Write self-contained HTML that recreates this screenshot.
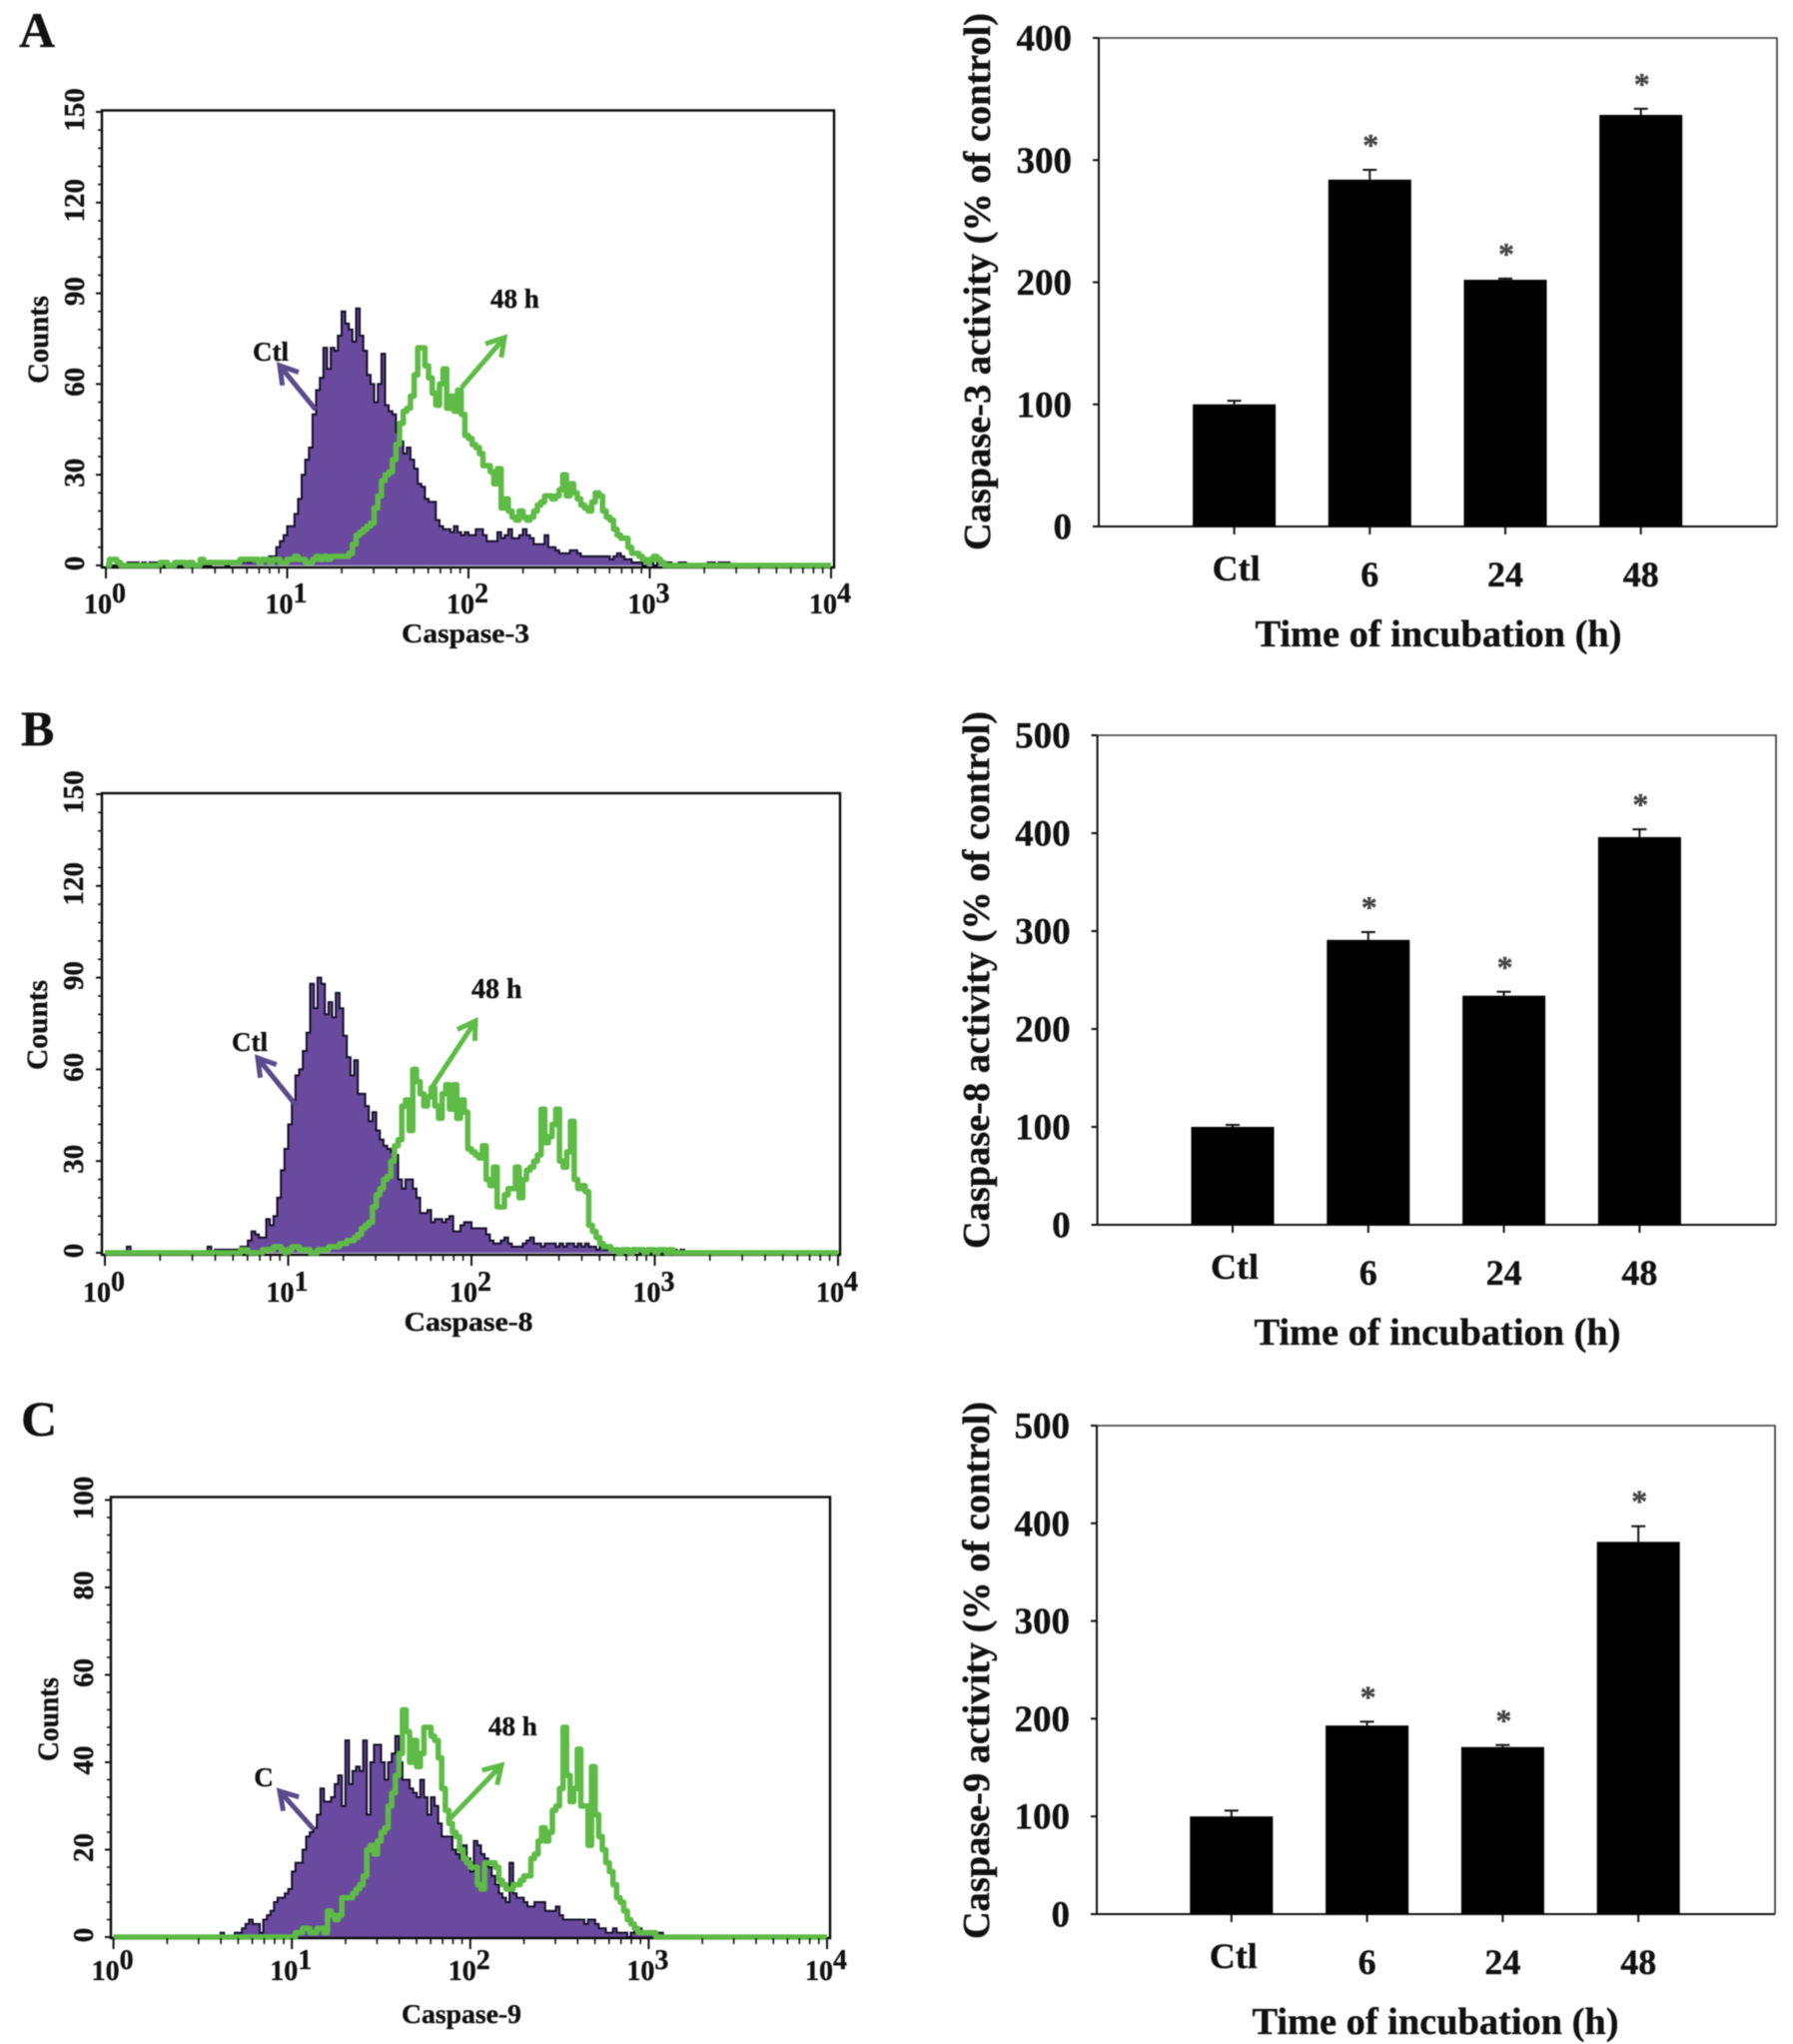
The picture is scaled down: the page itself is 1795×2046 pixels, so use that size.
<!DOCTYPE html>
<html lang="en">
<head>
<meta charset="utf-8">
<title>Caspase activity by flow cytometry and bar charts</title>
<style>
  html, body { margin: 0; padding: 0; background: #fff; }
  svg { display: block; filter: blur(0.55px); }
  text { font-family: "Liberation Serif", serif; font-weight: bold; fill: #111; stroke: #111; stroke-width: 0.35px; }
</style>
</head>
<body>
<svg id="figure" xmlns="http://www.w3.org/2000/svg" width="1795" height="2046" viewBox="0 0 1795 2046">
  <rect x="0" y="0" width="1795" height="2046" fill="#ffffff"/>

  <text x="19" y="47" font-size="50">A</text>
  <text x="21" y="746" font-size="50">B</text>
  <text x="21" y="1437" font-size="50">C</text>

  <g id="flow-a"></g>
  <g id="flow-b"></g>
  <g id="flow-c"></g>
  <g id="bar-a"></g>
  <g id="bar-b"></g>
  <g id="bar-c"></g>

  <!-- Flow panel A annotations -->
  <text x="466" y="643" font-size="27" text-anchor="middle" textLength="128" lengthAdjust="spacingAndGlyphs">Caspase-3</text>
  <text transform="translate(48 340) rotate(-90)" font-size="30" text-anchor="middle" textLength="88" lengthAdjust="spacingAndGlyphs">Counts</text>
  <text x="271" y="361" font-size="27" text-anchor="middle">Ctl</text>
  <text x="491" y="308" font-size="27">48 h</text>

  <!-- Flow panel B annotations -->
  <text x="469" y="1332" font-size="27" text-anchor="middle" textLength="129" lengthAdjust="spacingAndGlyphs">Caspase-8</text>
  <text transform="translate(47 1026) rotate(-90)" font-size="30" text-anchor="middle" textLength="90" lengthAdjust="spacingAndGlyphs">Counts</text>
  <text x="250" y="1052" font-size="27" text-anchor="middle">Ctl</text>
  <text x="472" y="999" font-size="28">48 h</text>

  <!-- Flow panel C annotations -->
  <text x="462" y="2025" font-size="27" text-anchor="middle" textLength="120" lengthAdjust="spacingAndGlyphs">Caspase-9</text>
  <text transform="translate(58 1721) rotate(-90)" font-size="30" text-anchor="middle" textLength="84" lengthAdjust="spacingAndGlyphs">Counts</text>
  <text x="264" y="1788" font-size="27" text-anchor="middle">C</text>
  <text x="489" y="1737" font-size="27">48 h</text>

  <!-- Bar chart titles -->
  <text transform="translate(991 282) rotate(-90)" font-size="38" text-anchor="middle" textLength="538" lengthAdjust="spacingAndGlyphs">Caspase-3 activity (% of control)</text>
  <text x="1440" y="647" font-size="38" text-anchor="middle" textLength="367" lengthAdjust="spacingAndGlyphs">Time of incubation (h)</text>
  <text transform="translate(990 981) rotate(-90)" font-size="38" text-anchor="middle" textLength="538" lengthAdjust="spacingAndGlyphs">Caspase-8 activity (% of control)</text>
  <text x="1439" y="1346" font-size="38" text-anchor="middle" textLength="367" lengthAdjust="spacingAndGlyphs">Time of incubation (h)</text>
  <text transform="translate(990 1672) rotate(-90)" font-size="38" text-anchor="middle" textLength="538" lengthAdjust="spacingAndGlyphs">Caspase-9 activity (% of control)</text>
  <text x="1437" y="2036" font-size="38" text-anchor="middle" textLength="367" lengthAdjust="spacingAndGlyphs">Time of incubation (h)</text>
</svg>

<script>
/* ---------- Bar chart data ---------- */
const barCategories = ['Ctl', '6', '24', '48'];
const caspase3Values = [100, 284, 202, 337];
const caspase3ErrorTops = [103, 292, 203, 342];
const caspase3Ticks = [0, 100, 200, 300, 400];
const caspase8Values = [100, 291, 234, 396];
const caspase8ErrorTops = [102, 299, 238, 404];
const caspase8Ticks = [0, 100, 200, 300, 400, 500];
const caspase9Values = [100, 193, 171, 381];
const caspase9ErrorTops = [106, 197, 173, 397];
const caspase9Ticks = [0, 100, 200, 300, 400, 500];
const significantFlags = [false, true, true, true];

/* ---------- Flow histogram data: counts per bin, bins are 0.02 decades wide starting at 10^0 ---------- */
const binDecades = 0.02;
const decadeTicks = [0, 1, 2, 3, 4];
const countTicksAB = [0, 30, 60, 90, 120, 150];
const countTicksC = [0, 20, 40, 60, 80, 100];

const ctlCountsA = [
  0,0,0,0,0,0,1,1,1,0, 1,0,1,1,0,0,0,0,0,0, 0,1,0,0,0,0,1,0,0,1, 1,1,1,0,1,1,1,1,2,1,
  2,2,1,2,2,3,3,6,8,10, 13,13,17,22,30,35,39,50,58,62, 72,65,72,71,76,84,80,78,74,85,
  76,71,63,60,54,60,70,53,51,50, 44,41,37,39,35,32,27,26,22,21, 21,15,13,12,12,11,13,11,10,11,
  10,10,12,12,10,8,8,8,11,9, 10,12,9,9,10,12,10,9,7,7, 7,10,6,6,5,4,4,4,5,5,
  4,3,3,3,3,3,3,3,3,2, 3,4,3,2,2,1,1,1,0,1, 1,0,1,1,0,1,0,0,1,1, 0,0,0,0,0,0,1,1,0,1, 1,1,0,0,0
];
const treatedCountsA = [
  0,2,2,1,0,0,0,0,0,0, 0,0,0,0,0,1,1,0,0,1, 1,1,0,1,0,0,2,1,1,1, 1,1,1,1,1,1,1,2,2,2,
  2,2,1,2,2,1,2,2,1,1, 2,2,3,2,2,1,1,2,3,2, 3,2,3,3,3,3,3,4,7,10,
  11,12,13,14,19,23,28,30,31,35, 40,47,51,52,56,63,72,72,66,62, 57,53,60,65,52,56,51,58,50,43,
  42,40,39,37,33,33,31,27,32,19, 22,18,16,15,18,16,15,16,18,20, 21,23,23,22,23,25,30,23,27,24,
  22,20,19,18,21,24,23,18,16,15, 12,10,9,9,6,4,4,3,2,1, 2,3,2,1
];

const ctlCountsB = [
  0,0,0,0,0,0,2,0,0,0, 0,0,0,0,0,0,0,0,0,0, 0,0,0,0,0,0,0,0,2,0, 1,1,1,1,1,1,1,2,2,4,
  7,6,5,5,11,9,12,18,27,34, 42,50,58,60,66,72,88,80,90,88, 78,82,77,85,80,71,64,58,63,52,
  52,48,43,46,40,37,35,34,33,32, 24,21,24,24,21,18,13,13,14,10, 11,11,10,11,12,7,7,9,10,10,
  8,8,8,8,6,4,3,3,4,5, 3,2,2,2,3,4,5,3,3,2, 3,3,3,2,3,2,3,3,2,3,
  2,3,2,2,1,2,1,1,1,1, 0,1,1,0,1,1,0,1,1,0, 1,1,0,1,1,1,0,1
];
const treatedCountsB = [
  0,0,0,0,0,0,0,0,0,0, 0,0,0,0,0,0,0,0,0,0, 0,0,0,0,0,0,0,0,0,0, 0,0,0,0,0,0,0,1,1,0,
  0,0,0,1,1,1,2,2,1,0, 1,2,2,1,1,1,0,0,1,1, 1,2,2,2,3,3,4,4,5,6,
  8,9,10,15,19,21,24,25,30,35, 37,48,50,40,60,56,52,48,51,54, 48,44,52,55,47,55,44,50,46,34,
  33,32,31,35,24,22,28,15,15,19, 21,21,28,18,24,27,28,30,32,47, 36,38,42,47,30,28,33,43,24,21,
  22,20,9,7,5,3,2,2,1,1, 0,1,1,0,1,1,1,0,1,1, 0,1,1,0,1
];

const ctlCountsC = [
  0,0,0,0,0,0,0,0,0,0, 0,0,0,0,0,0,0,0,0,0, 0,0,0,0,0,0,0,0,0,0, 1,0,0,0,1,1,2,3,4,3,
  3,1,4,5,6,8,9,9,10,11, 15,17,17,20,23,24,25,28,34,31, 31,32,35,37,30,45,35,38,39,38,
  45,28,40,44,44,40,36,40,42,46, 40,36,36,34,33,32,36,32,28,32, 30,26,23,23,23,20,19,18,21,18,
  15,22,21,19,18,16,14,12,10,9, 8,17,10,9,9,8,7,7,8,8, 8,6,6,6,7,5,4,4,4,4,
  4,4,3,4,4,3,2,2,1,1, 2,1,1,1,0,1,2,2,1,1, 1,1,1,1
];
const treatedCountsC = [
  0,0,0,0,0,0,0,0,0,0, 0,0,0,0,0,0,0,0,0,0, 0,0,0,0,0,0,0,0,0,0, 0,0,0,0,0,0,0,0,0,0,
  0,0,0,0,0,0,0,0,0,0, 0,1,1,2,2,1,1,2,2,1, 6,5,4,5,9,9,9,10,11,12,
  14,20,21,19,22,24,25,30,33,37, 42,52,47,40,45,39,42,48,48,46, 45,41,34,29,26,24,23,20,18,17,
  16,16,12,11,17,17,17,16,13,12, 11,11,12,12,13,14,14,18,19,22, 25,22,24,29,30,34,48,37,31,34,
  43,30,30,21,39,28,23,20,17,15, 12,9,8,6,4,3,2,1,1,1, 1,1
];

/* ---------- Layout (axes are functions built from these frames) ---------- */
const flowLayoutA = { id:'a', fx0:102, fx1:835, fy0:110.5, fy1:568, x0:106, x1:832, y0:566, yTop:112, yMax:150, minorEvery:6, labelBase:614, labelX:84, ctlArrow:[316,410,280,366], trtArrow:[462,388,505,338] };
const flowLayoutB = { id:'b', fx0:102, fx1:841, fy0:794, fy1:1256, x0:105, x1:839, y0:1254, yTop:795, yMax:150, minorEvery:6, labelBase:1303, labelX:83, ctlArrow:[296,1106,258,1059], trtArrow:[432,1089,476,1022] };
const flowLayoutC = { id:'c', fx0:111, fx1:831, fy0:1498.5, fy1:1940, x0:113.6, x1:828, y0:1939, yTop:1501.5, yMax:100, minorEvery:4, labelBase:1982, labelX:93, ctlArrow:[314,1831,280,1793], trtArrow:[448,1823,502,1767] };

const barLayoutA = { id:'a', left:1100, right:1779, top:38, bottom:527, yMax:400, firstCenter:1235.6, spacing:135.7 };
const barLayoutB = { id:'b', left:1098.6, right:1778, top:736, bottom:1226, yMax:500, firstCenter:1234, spacing:135.8 };
const barLayoutC = { id:'c', left:1098, right:1777, top:1427, bottom:1916, yMax:500, firstCenter:1232.8, spacing:135.8 };

const SVG_NS = 'http://www.w3.org/2000/svg';

function node(parent, tag, attrs, content) {
  const el = document.createElementNS(SVG_NS, tag);
  for (const k in attrs) el.setAttribute(k, attrs[k]);
  if (content !== undefined) el.textContent = content;
  parent.appendChild(el);
  return el;
}

function stepPath(counts, xOf, yOf, closeToBase) {
  const totalBins = 4 / binDecades;
  let d = 'M' + xOf(0).toFixed(1) + ' ' + yOf(0).toFixed(1);
  for (let i = 0; i < totalBins; i++) {
    const c = counts[i] || 0;
    const y = yOf(c).toFixed(1);
    d += 'L' + xOf(i * binDecades).toFixed(1) + ' ' + y;
    d += 'L' + xOf((i + 1) * binDecades).toFixed(1) + ' ' + y;
  }
  if (closeToBase) d += 'L' + xOf(4).toFixed(1) + ' ' + yOf(0).toFixed(1) + 'Z';
  return d;
}

function arrow(parent, pts, color, name) {
  const [x1, y1, x2, y2] = pts;
  const a = Math.atan2(y2 - y1, x2 - x1);
  const len = 20;
  const wing = 0.55;
  const g = node(parent, 'g', {});
  
  
  node(g, 'line', { x1: x1, y1: y1, x2: x2, y2: y2, stroke: color, 'stroke-width': 5 });
  const hx1 = x2 - len * Math.cos(a - wing), hy1 = y2 - len * Math.sin(a - wing);
  const hx2 = x2 - len * Math.cos(a + wing), hy2 = y2 - len * Math.sin(a + wing);
  node(g, 'path', { d: 'M' + hx1 + ' ' + hy1 + 'L' + x2 + ' ' + y2 + 'L' + hx2 + ' ' + hy2, fill: 'none', stroke: color, 'stroke-width': 5 });
}

function drawFlow(layout, ctlCounts, treatedCounts, countTicks) {
  const root = document.getElementById('flow-' + layout.id);
  const xOf = function (decade) { return layout.x0 + (layout.x1 - layout.x0) * decade / 4; };
  const yOf = function (count) { return layout.y0 - (layout.y0 - layout.yTop) * count / layout.yMax; };

  const ctlFill = node(root, 'path', { d: stepPath(ctlCounts, xOf, yOf, true), fill: '#6a4a9e', stroke: 'none' });
  
  
  const ctlLine = node(root, 'path', { d: stepPath(ctlCounts, xOf, yOf, false), fill: 'none', stroke: '#15102a', 'stroke-width': 2 });
  
  

  const frame = node(root, 'rect', { x: layout.fx0, y: layout.fy0, width: layout.fx1 - layout.fx0, height: layout.fy1 - layout.fy0, fill: 'none', stroke: '#0a0a0a', 'stroke-width': 2.4 });
  
  

  const treatedLine = node(root, 'path', { d: stepPath(treatedCounts, xOf, yOf, false), fill: 'none', stroke: '#5dbb46', 'stroke-width': 5.5, 'stroke-linejoin': 'round' });
  
  

  arrow(root, layout.ctlArrow, '#5b4a8c', 'control-arrow');
  arrow(root, layout.trtArrow, '#5dbb46', 'treated-arrow');

  /* x axis ticks */
  decadeTicks.forEach(function (dec) {
    const major = node(root, 'line', { x1: xOf(dec), x2: xOf(dec), y1: layout.fy1, y2: layout.fy1 + 11, stroke: '#111', 'stroke-width': 2 });
    
    
    const label = node(root, 'text', { x: xOf(dec) - 1, y: layout.labelBase, 'font-size': 28, 'text-anchor': 'middle' });
    
    
    label.appendChild(document.createTextNode('10'));
    node(label, 'tspan', { dy: -11 }, String(dec));
    if (dec < 4) {
      for (let m = 2; m < 10; m++) {
        const mx = xOf(dec + Math.log10(m));
        const minor = node(root, 'line', { x1: mx, x2: mx, y1: layout.fy1, y2: layout.fy1 + 6, stroke: '#111', 'stroke-width': 1.6 });
        
        
      }
    }
  });

  /* y axis ticks */
  for (let c = 0; c <= layout.yMax; c += layout.minorEvery) {
    const tick = node(root, 'line', { x1: layout.fx0 - 4, x2: layout.fx0, y1: yOf(c), y2: yOf(c), stroke: '#111', 'stroke-width': 1.6 });
    
    
  }
  countTicks.forEach(function (c) {
    const tick = node(root, 'line', { x1: layout.fx0 - 6, x2: layout.fx0, y1: yOf(c), y2: yOf(c), stroke: '#111', 'stroke-width': 2 });
    
    
    const ty = yOf(c) - 2;
    const label = node(root, 'text', { transform: 'translate(' + layout.labelX + ' ' + ty + ') rotate(-90)', 'font-size': 29, 'text-anchor': 'middle' }, String(c));
    
    
  });
}

function drawBars(layout, categories, values, errorTops, ticks, flags) {
  const root = document.getElementById('bar-' + layout.id);
  const yOf = function (v) { return layout.bottom - (layout.bottom - layout.top) * v / layout.yMax; };
  const xOf = function (i) { return layout.firstCenter + layout.spacing * i; };
  const barWidth = 83;

  const frame = node(root, 'path', { d: 'M' + layout.left + ' ' + layout.top + 'H' + layout.right + 'V' + layout.bottom, fill: 'none', stroke: '#333', 'stroke-width': 1.6 });
  
  
  const yAxis = node(root, 'line', { x1: layout.left, x2: layout.left, y1: layout.top, y2: layout.bottom, stroke: '#111', 'stroke-width': 2 });
  
  
  const xAxis = node(root, 'line', { x1: layout.left - 6, x2: layout.right, y1: layout.bottom, y2: layout.bottom, stroke: '#111', 'stroke-width': 2 });
  
  

  ticks.forEach(function (t) {
    const tick = node(root, 'line', { x1: layout.left - 6, x2: layout.left, y1: yOf(t), y2: yOf(t), stroke: '#111', 'stroke-width': 2 });
    
    
    const label = node(root, 'text', { x: layout.left - 27, y: yOf(t) + 12.5, 'font-size': 37, 'text-anchor': 'end' }, String(t));
    
    
  });

  categories.forEach(function (cat, i) {
    const cx = xOf(i);
    const err = node(root, 'path', { d: 'M' + cx + ' ' + yOf(values[i]) + 'V' + yOf(errorTops[i]) + 'M' + (cx - 7) + ' ' + yOf(errorTops[i]) + 'H' + (cx + 7), fill: 'none', stroke: '#111', 'stroke-width': 2 });
    
    
    const bar = node(root, 'rect', { x: cx - barWidth / 2, y: yOf(values[i]), width: barWidth, height: yOf(0) - yOf(values[i]), fill: '#000' });
    
    
    const tick = node(root, 'line', { x1: cx, x2: cx, y1: layout.bottom, y2: layout.bottom + 8, stroke: '#111', 'stroke-width': 2 });
    
    
    const isWord = isNaN(Number(cat));
    const label = node(root, 'text', { x: cx + (isWord ? 2 : 0), y: layout.bottom + (isWord ? 54 : 60), 'font-size': 36, 'text-anchor': 'middle' }, cat);
    
    
    if (flags[i]) {
      const star = node(root, 'text', { x: cx + 1, y: yOf(errorTops[i]) - 29 + 15, 'font-size': 32, 'text-anchor': 'middle', style: 'fill:#444;stroke:#444' }, '*');
      
      
    }
  });
}

drawFlow(flowLayoutA, ctlCountsA, treatedCountsA, countTicksAB);
drawFlow(flowLayoutB, ctlCountsB, treatedCountsB, countTicksAB);
drawFlow(flowLayoutC, ctlCountsC, treatedCountsC, countTicksC);
drawBars(barLayoutA, barCategories, caspase3Values, caspase3ErrorTops, caspase3Ticks, significantFlags);
drawBars(barLayoutB, barCategories, caspase8Values, caspase8ErrorTops, caspase8Ticks, significantFlags);
drawBars(barLayoutC, barCategories, caspase9Values, caspase9ErrorTops, caspase9Ticks, significantFlags);
</script>
</body>
</html>
